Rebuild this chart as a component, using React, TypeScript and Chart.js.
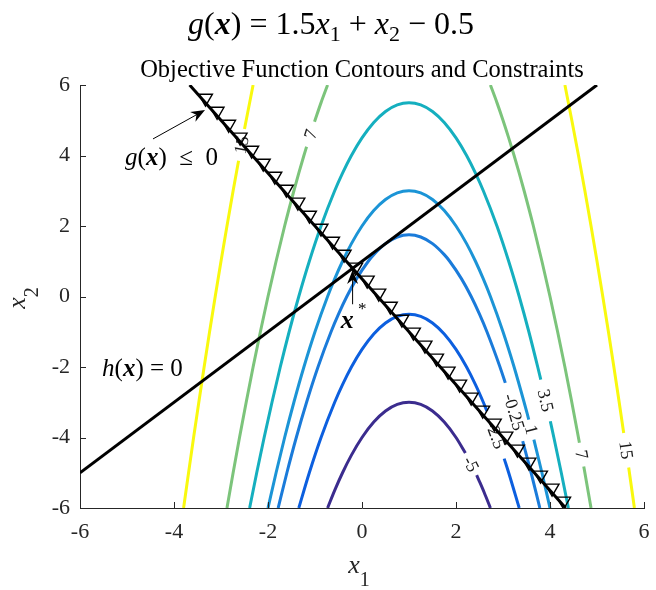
import { useEffect, useRef } from 'react';
import { Chart, registerables } from 'chart.js';

Chart.register(...registerables);

type Pt = [number, number];

const SERIF = "'Liberation Serif', 'Times New Roman', serif";
const AXIS_GRAY = '#262626';

// Axis ticks
const xTicks = [-6, -4, -2, 0, 2, 4, 6];
const yTicks = [-6, -4, -2, 0, 2, 4, 6];

// Objective function contours, one list of segments per branch.
// Segments break where the inline level label sits.
const level15Left: Pt[][] = [
  [[-3.796, -6], [-3.69, -5], [-3.583, -4], [-3.472, -3], [-3.359, -2], [-3.243, -1], [-3.123, 0], [-3.0, 1], [-2.873, 2], [-2.742, 3], [-2.626, 3.85]],
  [[-2.5, 4.75], [-2.464, 5], [-2.317, 6]],
];
const level15Right: Pt[][] = [
  [[4.317, 6], [4.464, 5], [4.606, 4], [4.742, 3], [4.873, 2], [5.0, 1], [5.123, 0], [5.243, -1], [5.359, -2], [5.472, -3], [5.568, -3.87]],
  [[5.674, -4.85], [5.796, -6]],
];
const level7Left: Pt[][] = [
  [[-2.873, -6], [-2.742, -5], [-2.606, -4], [-2.464, -3], [-2.317, -2], [-2.162, -1], [-2.0, 0], [-1.828, 1], [-1.646, 2], [-1.449, 3], [-1.345, 3.5], [-1.236, 4], [-1.179, 4.25]],
  [[-1.01, 4.96], [-0.871, 5.5], [-0.732, 6]],
];
const level7Right: Pt[][] = [
  [[2.732, 6], [2.871, 5.5], [3.0, 5], [3.121, 4.5], [3.236, 4], [3.345, 3.5], [3.449, 3], [3.646, 2], [3.828, 1], [4.0, 0], [4.162, -1], [4.317, -2], [4.464, -3], [4.626, -4.15]],
  [[4.718, -4.82], [4.742, -5], [4.873, -6]],
];
const level3p5: Pt[][] = [
  [[-2.391, -6], [-2.24, -5], [-2.082, -4], [-1.915, -3], [-1.739, -2], [-1.55, -1], [-1.345, 0], [-1.121, 1], [-0.871, 2], [-0.581, 3], [-0.414, 3.5], [-0.225, 4], [0, 4.5], [0.25, 4.9375], [0.5, 5.25], [0.75, 5.4375], [1, 5.5], [1.25, 5.4375], [1.5, 5.25], [1.75, 4.9375], [2, 4.5], [2.225, 4], [2.414, 3.5], [2.581, 3], [2.871, 2], [3.121, 1], [3.345, 0], [3.55, -1], [3.739, -2], [3.804, -2.36]],
  [[4.007, -3.54], [4.082, -4], [4.24, -5], [4.391, -6]],
];
const level1: Pt[][] = [
  [[-2, -6], [-1.828, -5], [-1.646, -4], [-1.449, -3], [-1.236, -2], [-1, -1], [-0.732, 0], [-0.581, 0.5], [-0.414, 1], [-0.225, 1.5], [0, 2], [0.25, 2.4375], [0.5, 2.75], [0.75, 2.9375], [1, 3], [1.25, 2.9375], [1.5, 2.75], [1.75, 2.4375], [2, 2], [2.225, 1.5], [2.414, 1], [2.581, 0.5], [2.732, 0], [3, -1], [3.236, -2], [3.449, -3], [3.548, -3.49]],
  [[3.657, -4.06], [3.828, -5], [4, -6]],
];
const levelNeg0p25: Pt[][] = [
  [[-1.784, -6], [-1.598, -5], [-1.398, -4], [-1.179, -3], [-0.936, -2], [-0.658, -1], [-0.5, -0.5], [-0.323, 0], [-0.118, 0.5], [0.134, 1], [0.25, 1.1875], [0.5, 1.5], [0.75, 1.6875], [1, 1.75], [1.25, 1.6875], [1.5, 1.5], [1.75, 1.1875], [1.866, 1], [2.118, 0.5], [2.323, 0], [2.5, -0.5], [2.658, -1], [2.936, -2], [3.049, -2.45]],
  [[3.419, -4.1], [3.598, -5], [3.784, -6]],
];
const levelNeg2p5: Pt[][] = [
  [[-1.345, -6], [-1.121, -5], [-0.871, -4], [-0.581, -3], [-0.414, -2.5], [-0.225, -2], [0, -1.5], [0.25, -1.0625], [0.5, -0.75], [0.75, -0.5625], [1, -0.5], [1.25, -0.5625], [1.5, -0.75], [1.75, -1.0625], [2, -1.5], [2.225, -2], [2.414, -2.5], [2.581, -3], [2.658, -3.25]],
  [[3.025, -4.6], [3.121, -5], [3.345, -6]],
];
const levelNeg5: Pt[][] = [
  [[-0.732, -6], [-0.581, -5.5], [-0.414, -5], [-0.225, -4.5], [0, -4], [0.25, -3.5625], [0.5, -3.25], [0.75, -3.0625], [1, -3], [1.25, -3.0625], [1.5, -3.25], [1.75, -3.5625], [2, -4], [2.2, -4.44]],
  [[2.44, -5.07], [2.5, -5.25], [2.6, -5.56], [2.732, -6]],
];

// Constraint lines g(x) = 0 and h(x) = 0
const gLine: Pt[] = [[-3.667, 6], [4.333, -6]];
const hLine: Pt[] = [[-6, -5], [5, 6]];

// Infeasible-side markers along g(x) = 0
const markerX = [-3.33, -3.084, -2.838, -2.593, -2.347, -2.101, -1.855, -1.609, -1.364, -1.118, -0.872, -0.626, -0.38, -0.135, 0.111, 0.357, 0.603, 0.849, 1.094, 1.34, 1.586, 1.832, 2.078, 2.323, 2.569, 2.815, 3.061, 3.307, 3.552, 3.798, 4.044, 4.29];
const markerY = [5.625, 5.256, 4.887, 4.52, 4.151, 3.782, 3.413, 3.044, 2.676, 2.307, 1.938, 1.569, 1.2, 0.833, 0.464, 0.095, -0.275, -0.644, -1.011, -1.38, -1.749, -2.118, -2.487, -2.855, -3.224, -3.593, -3.962, -4.331, -4.698, -5.067, -5.436, -5.805];

// Optimum x*
const optimum: Pt = [-0.2, 0.8];

type Contour = { label: string; color: string; segments: Pt[][] };
const contours: Contour[] = [
  { label: '15', color: '#f9f90e', segments: level15Left },
  { label: '15', color: '#f9f90e', segments: level15Right },
  { label: '7', color: '#7cc47b', segments: level7Left },
  { label: '7', color: '#7cc47b', segments: level7Right },
  { label: '3.5', color: '#15afbf', segments: level3p5 },
  { label: '1', color: '#1b94d6', segments: level1 },
  { label: '-0.25', color: '#1a7bda', segments: levelNeg0p25 },
  { label: '-2.5', color: '#0c5fdf', segments: levelNeg2p5 },
  { label: '-5', color: '#3b2c8e', segments: levelNeg5 },
];

type Run = { t: string; font: string; dy?: number };

const fnt = (size: number, style = '', weight = '') =>
  `${style} ${weight} ${size}px ${SERIF}`.trim();

function drawRuns(ctx: CanvasRenderingContext2D, runs: Run[], x: number, y: number, align: 'left' | 'center') {
  let total = 0;
  const widths = runs.map((r) => {
    ctx.font = r.font;
    const w = ctx.measureText(r.t).width;
    total += w;
    return w;
  });
  let cx = align === 'center' ? x - total / 2 : x;
  ctx.textAlign = 'left';
  ctx.textBaseline = 'alphabetic';
  runs.forEach((r, i) => {
    ctx.font = r.font;
    ctx.fillText(r.t, cx, y + (r.dy || 0));
    cx += widths[i];
  });
}

function drawArrow(ctx: CanvasRenderingContext2D, x0: number, y0: number, x1: number, y1: number, len: number, half: number) {
  const a = Math.atan2(y1 - y0, x1 - x0);
  const ca = Math.cos(a);
  const sa = Math.sin(a);
  ctx.beginPath();
  ctx.moveTo(x0, y0);
  ctx.lineTo(x1 - ca * len * 0.6, y1 - sa * len * 0.6);
  ctx.stroke();
  const bx = x1 - ca * len;
  const by = y1 - sa * len;
  const nx = x1 - ca * len * 0.7;
  const ny = y1 - sa * len * 0.7;
  ctx.beginPath();
  ctx.moveTo(x1, y1);
  ctx.lineTo(bx - sa * half, by + ca * half);
  ctx.lineTo(nx, ny);
  ctx.lineTo(bx + sa * half, by - ca * half);
  ctx.closePath();
  ctx.fill();
}

const decorations = {
  id: 'decorations',
  beforeDatasetsDraw(chart: any) {
    const { ctx, scales } = chart;
    const xs = scales.x;
    const ys = scales.y;
    ctx.save();
    ctx.fillStyle = '#1a1a1a';
    ctx.font = fnt(18);
    ctx.textAlign = 'center';
    ctx.textBaseline = 'middle';
    contours.forEach((c) => {
      for (let i = 0; i < c.segments.length - 1; i++) {
        const p = c.segments[i][c.segments[i].length - 1];
        const q = c.segments[i + 1][0];
        const px = xs.getPixelForValue(p[0]);
        const py = ys.getPixelForValue(p[1]);
        const qx = xs.getPixelForValue(q[0]);
        const qy = ys.getPixelForValue(q[1]);
        let ang = Math.atan2(qy - py, qx - px);
        if (ang > Math.PI / 2) ang -= Math.PI;
        if (ang < -Math.PI / 2) ang += Math.PI;
        ctx.save();
        ctx.translate((px + qx) / 2, (py + qy) / 2);
        ctx.rotate(ang);
        ctx.fillText(c.label, 0, 1);
        ctx.restore();
      }
    });
    ctx.restore();
  },
  afterDatasetsDraw(chart: any) {
    const { ctx, scales } = chart;
    const xs = scales.x;
    const ys = scales.y;
    const X = (v: number) => xs.getPixelForValue(v);
    const Y = (v: number) => ys.getPixelForValue(v);
    ctx.save();
    ctx.fillStyle = '#000';
    ctx.strokeStyle = '#000';
    ctx.lineWidth = 1;

    // g(x) <= 0 callout
    drawArrow(ctx, X(-4.447), Y(4.47), X(-3.34), Y(5.29), 14, 5.5);
    drawRuns(ctx, [
      { t: 'g', font: fnt(25, 'italic') },
      { t: '(', font: fnt(25) },
      { t: 'x', font: fnt(25, 'italic', 'bold') },
      { t: ')', font: fnt(25) },
      { t: '  \u2264  0', font: fnt(25) },
    ], X(-5.04), Y(3.72), 'left');

    // h(x) = 0 label
    drawRuns(ctx, [
      { t: 'h', font: fnt(25, 'italic') },
      { t: '(', font: fnt(25) },
      { t: 'x', font: fnt(25, 'italic', 'bold') },
      { t: ')', font: fnt(25) },
      { t: ' = 0', font: fnt(25) },
    ], X(-5.53), Y(-2.25), 'left');

    // x* callout
    drawArrow(ctx, X(optimum[0]), Y(-0.22), X(optimum[0]), Y(optimum[1] - 0.05), 14, 5.5);
    drawRuns(ctx, [
      { t: 'x', font: fnt(26, 'italic', 'bold') },
      { t: ' *', font: fnt(17), dy: -14 },
    ], X(-0.45), Y(-0.89), 'left');
    ctx.restore();
  },
  afterDraw(chart: any) {
    const { ctx, scales, chartArea } = chart;
    const xs = scales.x;
    const ys = scales.y;
    ctx.save();
    // inward tick marks
    ctx.strokeStyle = AXIS_GRAY;
    ctx.lineWidth = 1;
    ctx.beginPath();
    xTicks.forEach((v) => {
      const px = Math.round(xs.getPixelForValue(v)) + 0.5;
      ctx.moveTo(px, chartArea.bottom);
      ctx.lineTo(px, chartArea.bottom - 6);
    });
    yTicks.forEach((v) => {
      const py = Math.round(ys.getPixelForValue(v)) + 0.5;
      ctx.moveTo(chartArea.left, py);
      ctx.lineTo(chartArea.left + 6, py);
    });
    ctx.stroke();

    ctx.fillStyle = '#000';
    const cx = (chartArea.left + chartArea.right) / 2;
    // title
    drawRuns(ctx, [
      { t: 'g', font: fnt(32, 'italic') },
      { t: '(', font: fnt(32) },
      { t: 'x', font: fnt(32, 'italic', 'bold') },
      { t: ')', font: fnt(32) },
      { t: ' = 1.5', font: fnt(32) },
      { t: 'x', font: fnt(32, 'italic') },
      { t: '1', font: fnt(22), dy: 7 },
      { t: ' + ', font: fnt(32) },
      { t: 'x', font: fnt(32, 'italic') },
      { t: '2', font: fnt(22), dy: 7 },
      { t: ' \u2212 0.5', font: fnt(32) },
    ], 331, 34, 'center');
    // subtitle
    drawRuns(ctx, [{ t: 'Objective Function Contours and Constraints', font: fnt(24.5) }], cx, 77, 'center');

    // axis labels
    ctx.fillStyle = AXIS_GRAY;
    drawRuns(ctx, [
      { t: 'x', font: fnt(26, 'italic') },
      { t: '1', font: fnt(20), dy: 13 },
    ], cx - 3, 573, 'center');
    ctx.save();
    ctx.translate(25, 298);
    ctx.rotate(-Math.PI / 2);
    drawRuns(ctx, [
      { t: 'x', font: fnt(26, 'italic') },
      { t: '2', font: fnt(20), dy: 13 },
    ], 0, 0, 'center');
    ctx.restore();
    ctx.restore();
  },
};

const toXY = (pts: Pt[]) => pts.map(([x, y]) => ({ x, y }));

export default function App() {
  const ref = useRef<HTMLCanvasElement>(null);

  useEffect(() => {
    const datasets: any[] = [];
    contours.forEach((c) => {
      c.segments.forEach((seg) => {
        datasets.push({
          data: toXY(seg),
          showLine: true,
          borderColor: c.color,
          borderWidth: 3,
          pointRadius: 0,
          cubicInterpolationMode: 'monotone',
          order: 3,
        });
      });
    });
    datasets.push({
      data: toXY(gLine),
      showLine: true,
      borderColor: '#000',
      borderWidth: 3,
      pointRadius: 0,
      order: 2,
    });
    datasets.push({
      data: toXY(hLine),
      showLine: true,
      borderColor: '#000',
      borderWidth: 3,
      pointRadius: 0,
      order: 2,
    });
    datasets.push({
      data: markerX.map((x, i) => ({ x, y: markerY[i] })),
      showLine: false,
      pointStyle: 'triangle',
      rotation: 180,
      pointRadius: 8,
      borderColor: '#000',
      borderWidth: 1.4,
      backgroundColor: 'rgba(255,255,255,0)',
      order: 1,
    });

    const tickFont = { family: SERIF, size: 22 };
    const chart = new Chart(ref.current as HTMLCanvasElement, {
      type: 'scatter',
      data: { datasets },
      plugins: [decorations],
      options: {
        responsive: false,
        animation: false,
        devicePixelRatio: 1,
        events: [],
        layout: { padding: { top: 85, right: 12, left: 0, bottom: 0 } },
        plugins: { legend: { display: false }, tooltip: { enabled: false } },
        scales: {
          x: {
            type: 'linear',
            min: -6,
            max: 6,
            afterBuildTicks: (s: any) => { s.ticks = xTicks.map((value) => ({ value })); },
            afterFit: (s: any) => { s.height = 82; s.paddingLeft = 0; s.paddingRight = 0; },
            ticks: { font: tickFont, color: AXIS_GRAY, padding: 11, maxRotation: 0 },
            grid: { display: false, drawTicks: false },
            border: { display: true, color: AXIS_GRAY, width: 1 },
          },
          y: {
            type: 'linear',
            min: -6,
            max: 6,
            afterBuildTicks: (s: any) => { s.ticks = yTicks.map((value) => ({ value })); },
            afterFit: (s: any) => { s.width = 80; s.paddingTop = 0; s.paddingBottom = 0; },
            ticks: { font: tickFont, color: AXIS_GRAY, padding: 10 },
            grid: { display: false, drawTicks: false },
            border: { display: true, color: AXIS_GRAY, width: 1 },
          },
        },
      } as any,
    });
    return () => chart.destroy();
  }, []);

  return (
    <div style={{ position: 'absolute', left: 0, top: 0, width: 656, height: 590, background: '#fff' }}>
      <canvas ref={ref} width={656} height={590} style={{ display: 'block', width: 656, height: 590 }} />
    </div>
  );
}
